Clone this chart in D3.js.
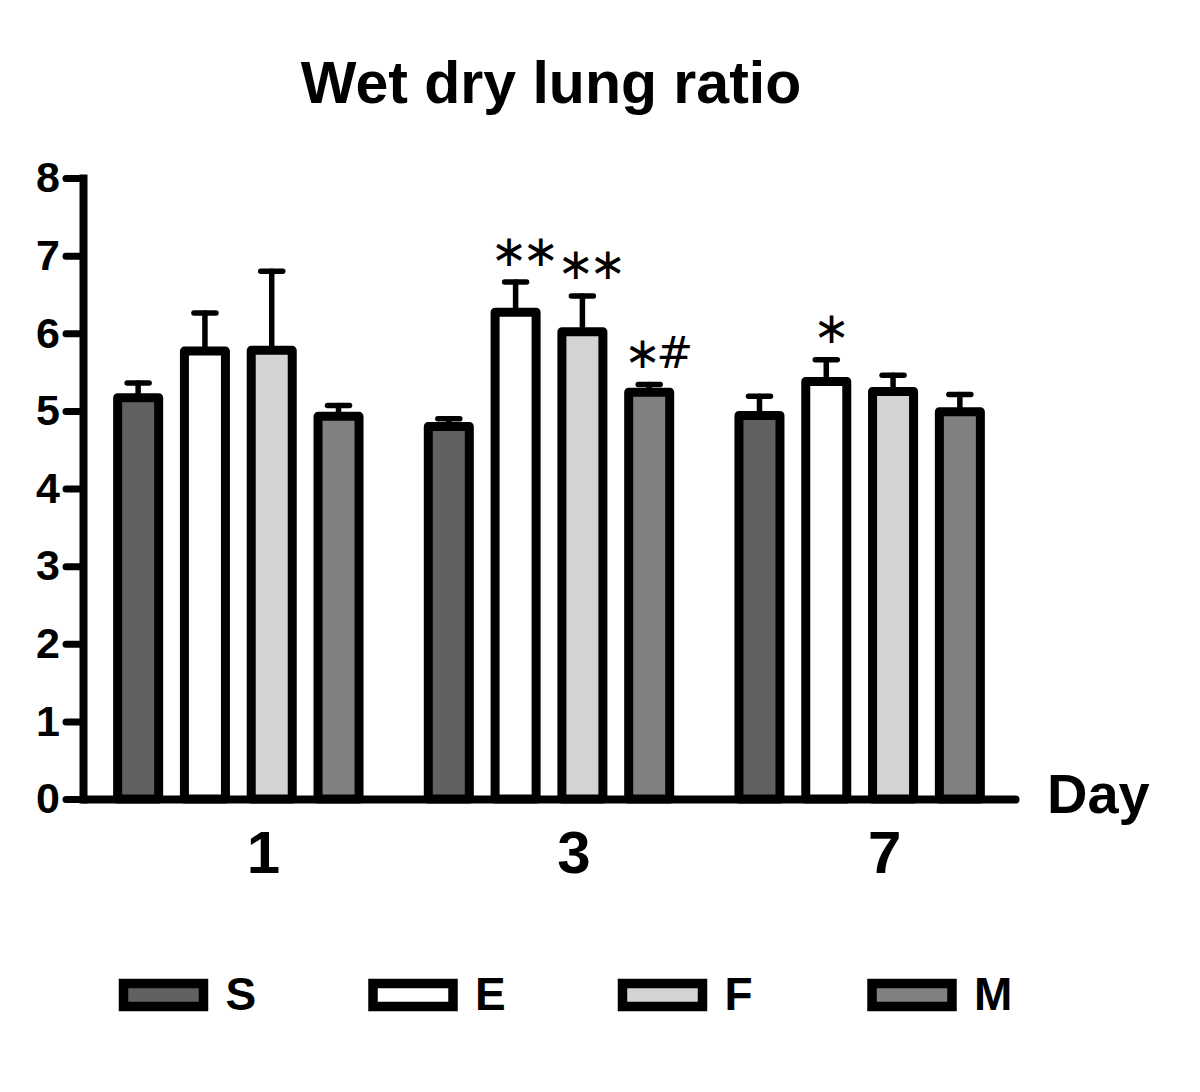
<!DOCTYPE html>
<html>
<head>
<meta charset="utf-8">
<script src="https://cdn.jsdelivr.net/npm/d3@7"></script>
<style>
  html, body { margin: 0; padding: 0; background: #fff; }
  svg { display: block; }
  text { font-family: "Liberation Sans", Arial, sans-serif; font-weight: bold; fill: #000; }
</style>
</head>
<body>
<script>
// ---- data ----
const days = ["1", "3", "7"];
const series = ["S", "E", "F", "M"];
const seriesFill = ["#616161", "#ffffff", "#d3d3d3", "#808080"];
const meanS = [5.17, 4.80, 4.94];
const meanE = [5.77, 6.27, 5.38];
const meanF = [5.78, 6.02, 5.25];
const meanM = [4.93, 5.24, 4.99];
const errS = [0.19, 0.10, 0.25];
const errE = [0.49, 0.39, 0.28];
const errF = [1.02, 0.46, 0.21];
const errM = [0.14, 0.10, 0.22];
const yTicks = [0, 1, 2, 3, 4, 5, 6, 7, 8];
const annotations = [
  { day: "3", series: "E", label: "∗∗" },
  { day: "3", series: "F", label: "∗∗" },
  { day: "3", series: "M", label: "∗#" },
  { day: "7", series: "E", label: "∗" }
];
const title = "Wet dry lung ratio";
const xTitle = "Day";

const means = { S: meanS, E: meanE, F: meanF, M: meanM };
const errs = { S: errS, E: errE, F: errF, M: errM };
const rows = [];
days.forEach((d, i) => series.forEach((s, j) => rows.push({ day: d, series: s, fill: seriesFill[j], mean: means[s][i], err: errs[s][i] })));

// ---- layout ----
const W = 1200, H = 1092;
const svg = d3.select("body").append("svg").attr("width", W).attr("height", H);
svg.append("rect").attr("width", W).attr("height", H).attr("fill", "#fff");

const y = d3.scaleLinear().domain([0, 8]).range([799, 178]);
const xg = d3.scaleBand().domain(days).range([83, 1015]).paddingInner(0.14).paddingOuter(0.07);
const xs = d3.scaleBand().domain(series).range([0, xg.bandwidth()]).paddingInner(0.386).paddingOuter(0.193);
const barX = r => xg(r.day) + xs(r.series);
const barC = r => barX(r) + xs.bandwidth() / 2;

// title
svg.append("text").attr("x", 551).attr("y", 103).attr("text-anchor", "middle")
  .attr("font-size", 59).text(title);

// error bars (upper only)
const eb = svg.append("g").attr("stroke", "#000").attr("stroke-width", 5.5).attr("stroke-linecap", "round");
eb.selectAll("line.v").data(rows).join("line").attr("class", "v")
  .attr("x1", barC).attr("x2", barC)
  .attr("y1", r => y(r.mean)).attr("y2", r => y(r.mean + r.err));
eb.selectAll("line.c").data(rows).join("line").attr("class", "c")
  .attr("x1", r => barC(r) - 11).attr("x2", r => barC(r) + 11)
  .attr("y1", r => y(r.mean + r.err)).attr("y2", r => y(r.mean + r.err));

// bars
svg.append("g").selectAll("rect").data(rows).join("rect")
  .attr("x", barX).attr("width", xs.bandwidth())
  .attr("y", r => y(r.mean)).attr("height", r => y(0) - y(r.mean))
  .attr("fill", r => r.fill).attr("stroke", "#000").attr("stroke-width", 9)
  .attr("stroke-linejoin", "round");

// annotations
const rowOf = (d, s) => rows.find(r => r.day === d && r.series === s);
svg.append("g").selectAll("text").data(annotations).join("text")
  .attr("x", a => barC(rowOf(a.day, a.series)) + (a.label.length > 1 ? 7 : 3))
  .attr("y", a => { const r = rowOf(a.day, a.series); return y(r.mean + r.err) - 32; })
  .attr("text-anchor", "middle").attr("dominant-baseline", "central")
  .style("font-family", '"DejaVu Sans", sans-serif').style("font-weight", "normal")
  .attr("font-size", 44).attr("letter-spacing", -5).attr("fill", "#333")
  .text(a => a.label);

// y axis
const yAxis = svg.append("g").attr("transform", "translate(83,0)")
  .call(d3.axisLeft(y).tickValues(yTicks).tickFormat(d3.format("d")).tickSize(17).tickSizeOuter(0).tickPadding(6));
yAxis.select(".domain").attr("stroke", "#000").attr("stroke-width", 8).attr("stroke-linecap", "square");
yAxis.selectAll(".tick line").attr("stroke", "#000").attr("stroke-width", 7).attr("stroke-linecap", "round");
yAxis.selectAll(".tick text").attr("font-size", 43).attr("font-family", null).attr("fill", "#000");

// x axis
const xAxis = svg.append("g").attr("transform", "translate(0,799)")
  .call(d3.axisBottom(xg).tickSize(0).tickSizeOuter(0).tickPadding(31));
xAxis.select(".domain").attr("stroke", "#000").attr("stroke-width", 8).attr("stroke-linecap", "round");
xAxis.selectAll(".tick text").attr("font-size", 60).attr("font-family", null).attr("fill", "#000").attr("dx", 25);

svg.append("text").attr("x", 1047).attr("y", 813).attr("font-size", 56).text(xTitle);

// legend
const lx = d3.scalePoint().domain(series).range([163.5, 912]);
const leg = svg.append("g").selectAll("g").data(series).join("g")
  .attr("transform", s => `translate(${lx(s)},995)`);
leg.append("rect").attr("x", -40).attr("y", -11.5).attr("width", 80).attr("height", 23)
  .attr("fill", (s, i) => seriesFill[i]).attr("stroke", "#000").attr("stroke-width", 9.5);
leg.append("text").attr("x", 62).attr("y", 15).attr("font-size", 46).text(s => s);
</script>
</body>
</html>
